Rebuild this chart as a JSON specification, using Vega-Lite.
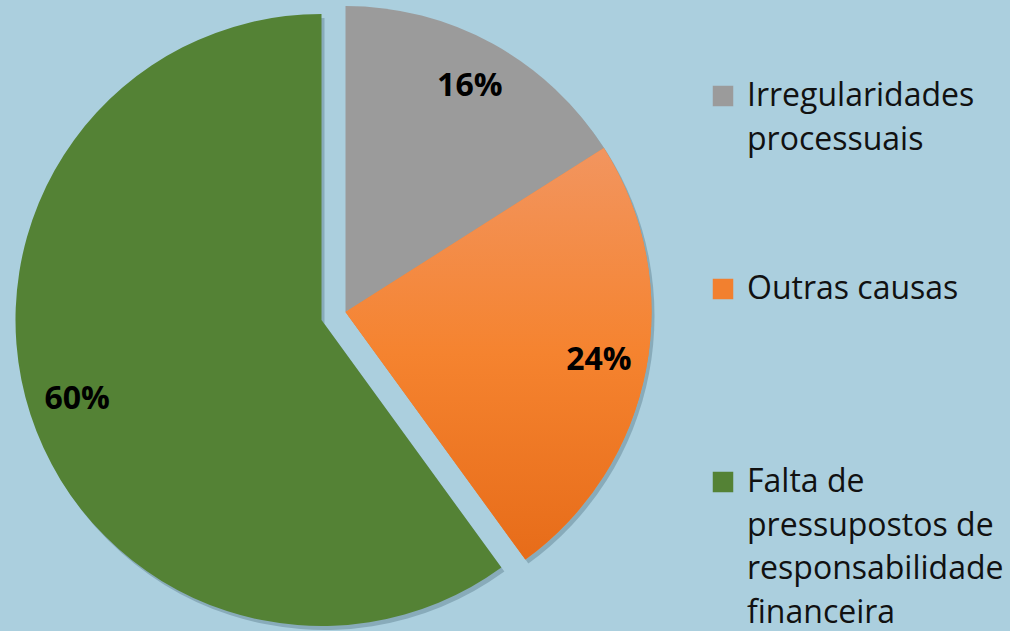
{
  "$schema": "https://vega.github.io/schema/vega-lite/v6.json",
  "width": 1010,
  "height": 631,
  "autosize": {"type": "fit", "contains": "padding"},
  "padding": {"left": 0, "top": 0, "right": 6, "bottom": 4},
  "background": "#abcfde",
  "config": {
    "view": {"stroke": null},
    "style": {"guide-label": {"lineHeight": 43.5}}
  },
  "data": {
    "values": [
      {"causa": "Irregularidades processuais", "share": 0.16},
      {"causa": "Outras causas", "share": 0.24},
      {"causa": "Falta de pressupostos de responsabilidade financeira", "share": 0.60}
    ]
  },
  "encoding": {
    "theta": {"field": "share", "type": "quantitative", "stack": true},
    "order": {"field": "share", "type": "quantitative", "sort": "ascending"},
    "color": {
      "field": "causa",
      "type": "nominal",
      "scale": {
        "domain": ["Irregularidades processuais", "Outras causas", "Falta de pressupostos de responsabilidade financeira"],
        "range": ["#9b9b9b", "#f2802f", "#548235"]
      },
      "legend": {
        "orient": "right",
        "offset": 12,
        "padding": 0,
        "title": " ",
        "titleFontSize": 10,
        "titlePadding": 70,
        "symbolType": "square",
        "symbolSize": 420,
        "symbolStrokeWidth": 0,
        "symbolOffset": 4,
        "labelFont": "Open Sans",
        "labelFontSize": 32,
        "labelColor": "#111111",
        "labelOffset": 8,
        "labelLimit": 400,
        "labelBaseline": "middle",
        "rowPadding": 30,
        "labelExpr": "datum.label === 'Irregularidades processuais' ? ['Irregularidades', 'processuais', '', ''] : datum.label === 'Outras causas' ? ['Outras causas', '', '', ''] : ['Falta de', 'pressupostos de', 'responsabilidade', 'financeira']"
      }
    }
  },
  "layer": [
    {
      "mark": {"type": "arc", "outerRadius": 306, "xOffset": 3, "yOffset": 4},
      "encoding": {
        "color": {"value": "#88abba"},
        "opacity": {"condition": {"test": "datum.causa === 'Falta de pressupostos de responsabilidade financeira'", "value": 0}, "value": 1}
      }
    },
    {
      "mark": {"type": "arc", "outerRadius": 306, "xOffset": -21, "yOffset": 12},
      "encoding": {
        "color": {"value": "#88abba"},
        "opacity": {"condition": {"test": "datum.causa === 'Falta de pressupostos de responsabilidade financeira'", "value": 1}, "value": 0}
      }
    },
    {
      "mark": {"type": "arc", "outerRadius": 306},
      "encoding": {
        "opacity": {"condition": {"test": "datum.causa === 'Falta de pressupostos de responsabilidade financeira'", "value": 0}, "value": 1}
      }
    },
    {
      "mark": {"type": "arc", "outerRadius": 306},
      "encoding": {
        "color": {"value": {"gradient": "linear", "x1": 0, "y1": 0, "x2": 0, "y2": 1, "stops": [{"offset": 0, "color": "#f2955f"}, {"offset": 0.5, "color": "#f5832f"}, {"offset": 1, "color": "#e76c19"}]}},
        "opacity": {"condition": {"test": "datum.causa === 'Outras causas'", "value": 1}, "value": 0}
      }
    },
    {
      "mark": {"type": "arc", "outerRadius": 306, "xOffset": -24, "yOffset": 8},
      "encoding": {
        "opacity": {"condition": {"test": "datum.causa === 'Falta de pressupostos de responsabilidade financeira'", "value": 1}, "value": 0}
      }
    },
    {
      "mark": {"type": "text", "radius": 258, "font": "Open Sans", "fontSize": 32, "fontWeight": "bold", "align": "center", "baseline": "middle"},
      "encoding": {
        "text": {"field": "share", "type": "quantitative", "format": ".0%"},
        "color": {"value": "#000000"},
        "opacity": {"condition": {"test": "datum.causa === 'Falta de pressupostos de responsabilidade financeira'", "value": 0}, "value": 1}
      }
    },
    {
      "mark": {"type": "text", "radius": 257, "xOffset": -24, "yOffset": 8, "font": "Open Sans", "fontSize": 32, "fontWeight": "bold", "align": "center", "baseline": "middle"},
      "encoding": {
        "text": {"field": "share", "type": "quantitative", "format": ".0%"},
        "color": {"value": "#000000"},
        "opacity": {"condition": {"test": "datum.causa === 'Falta de pressupostos de responsabilidade financeira'", "value": 1}, "value": 0}
      }
    }
  ]
}
